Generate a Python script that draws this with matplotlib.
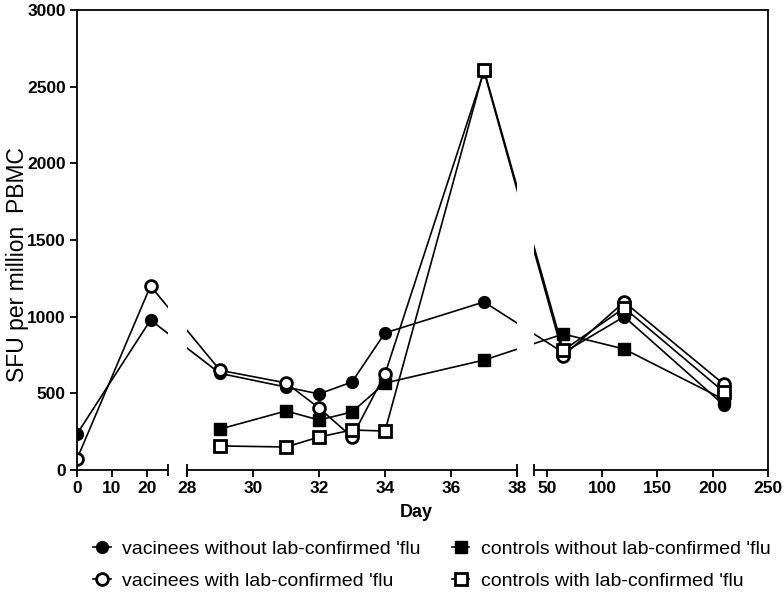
import numpy as np
import matplotlib
matplotlib.use("Agg")
import matplotlib.pyplot as plt
from matplotlib.lines import Line2D
import matplotlib.transforms as mtransforms

# ---------------- data ----------------
days_vac = [0, 21, 29, 31, 32, 33, 34, 37, 65, 120, 210]
vac_without = [235, 978, 630, 541, 496, 574, 894, 1096, 765, 1000, 424]
vac_with = [72, 1200, 650, 568, 405, 215, 626, 2600, 745, 1096, 560]

days_ctrl = [29, 31, 32, 33, 34, 37, 65, 120, 210]
ctrl_without = [267, 385, 326, 378, 567, 717, 887, 789, 460]
ctrl_with = [157, 150, 215, 261, 254, 2610, 780, 1057, 510]

x_ticks = [0, 10, 20, 28, 30, 32, 34, 36, 38, 50, 100, 150, 200, 250]
y_ticks = [0, 500, 1000, 1500, 2000, 2500, 3000]

labels = ["vacinees without lab-confirmed 'flu",
          "vacinees with lab-confirmed 'flu",
          "controls without lab-confirmed 'flu",
          "controls with lab-confirmed 'flu"]

# ---------------- broken-axis scale ----------------
D = np.array([0.0, 26.0, 28.0, 38.0, 38.5, 250.0])
U = np.array([0.0, 91.0, 110.0, 440.0, 457.0, 691.0])
s0 = (U[1] - U[0]) / (D[1] - D[0])
sN = (U[-1] - U[-2]) / (D[-1] - D[-2])

def fwd(d):
    d = np.asarray(d, float)
    u = np.interp(d, D, U)
    u = np.where(d < D[0], U[0] + (d - D[0]) * s0, u)
    u = np.where(d > D[-1], U[-1] + (d - D[-1]) * sN, u)
    return u

def inv(u):
    u = np.asarray(u, float)
    d = np.interp(u, U, D)
    d = np.where(u < U[0], D[0] + (u - U[0]) / s0, d)
    d = np.where(u > U[-1], D[-1] + (u - U[-1]) / sN, d)
    return d

W, H = 784, 595
fig = plt.figure(figsize=(W / 100, H / 100), dpi=100)
ax = fig.add_axes([77 / W, 125 / H, 691 / W, 460 / H])
ax.set_xscale('function', functions=(fwd, inv))
ax.set_xlim(0, 250)
ax.set_ylim(0, 3000)

lw = 1.2
ms = 8.5
ax.plot(days_ctrl, ctrl_without, '-', color='black', lw=lw, marker='s', ms=ms,
        mfc='black', mec='black', zorder=2)
ax.plot(days_vac, vac_without, '-', color='black', lw=lw, marker='o', ms=ms,
        mfc='black', mec='black', zorder=2)
ax.plot(days_vac, vac_with, '-', color='black', lw=lw, marker='o', ms=ms,
        mfc='white', mec='black', mew=2, zorder=2)
ax.plot(days_ctrl, ctrl_with, '-', color='black', lw=lw, marker='s', ms=ms,
        mfc='white', mec='black', mew=2, zorder=2)

# gaps in the data lines
ax.axvspan(26, 28, color='white', zorder=2.3, lw=0)
ax.axvspan(38, 38.5, color='white', zorder=2.3, lw=0)

# spines
for s in ['top', 'right', 'left']:
    ax.spines[s].set_linewidth(1.3)
ax.spines['bottom'].set_visible(False)

# broken bottom axis
trans = mtransforms.blended_transform_factory(ax.transData, ax.transAxes)
for a, b in [(0, 26), (28, 38), (38.5, 250)]:
    ax.plot([a, b], [0, 0], color='black', lw=1.3, transform=trans,
            clip_on=False, zorder=3, solid_capstyle='butt')
for e in [26, 28, 38, 38.5]:
    ax.plot([e], [0], marker='|', ms=8, mew=1.3, color='black',
            transform=trans, clip_on=False, zorder=3)

ax.set_xticks(x_ticks)
ax.set_xticklabels([str(t) for t in x_ticks])
ax.xaxis.set_minor_locator(matplotlib.ticker.NullLocator())
ax.set_yticks(y_ticks)
ax.tick_params(axis='both', direction='out', length=5, width=1.3, pad=3,
               labelsize=12.5)
ax.tick_params(top=False, right=False)
for lab in ax.get_xticklabels() + ax.get_yticklabels():
    lab.set_fontweight('bold')
    lab.set_family('Liberation Sans')

ax.set_xlabel('Day', fontsize=13, fontweight='bold', family='Liberation Sans')
ax.xaxis.set_label_coords((416 - 77) / 691, -(504 - 470) / 460)
ax.set_ylabel('SFU per million  PBMC', fontsize=16.5, family='Liberation Sans')
ax.yaxis.set_label_coords((29 - 77) / 691, (470 - 265) / 460)

handles = [
    Line2D([], [], color='black', lw=lw, marker='o', ms=ms, mfc='black', mec='black'),
    Line2D([], [], color='black', lw=lw, marker='o', ms=ms, mfc='white', mec='black', mew=2),
    Line2D([], [], color='black', lw=lw, marker='s', ms=ms, mfc='black', mec='black'),
    Line2D([], [], color='black', lw=lw, marker='s', ms=ms, mfc='white', mec='black', mew=2),
]
fig.legend(handles, labels, ncol=2, loc='upper left',
           bbox_to_anchor=(93 / W, 1 - 540 / H), frameon=False,
           prop={'family': 'Liberation Sans', 'size': 14},
           handlelength=0.9, handletextpad=0.6, columnspacing=1.6,
           labelspacing=0.75, borderpad=0, borderaxespad=0)

fig.savefig('out.png', dpi=100)
